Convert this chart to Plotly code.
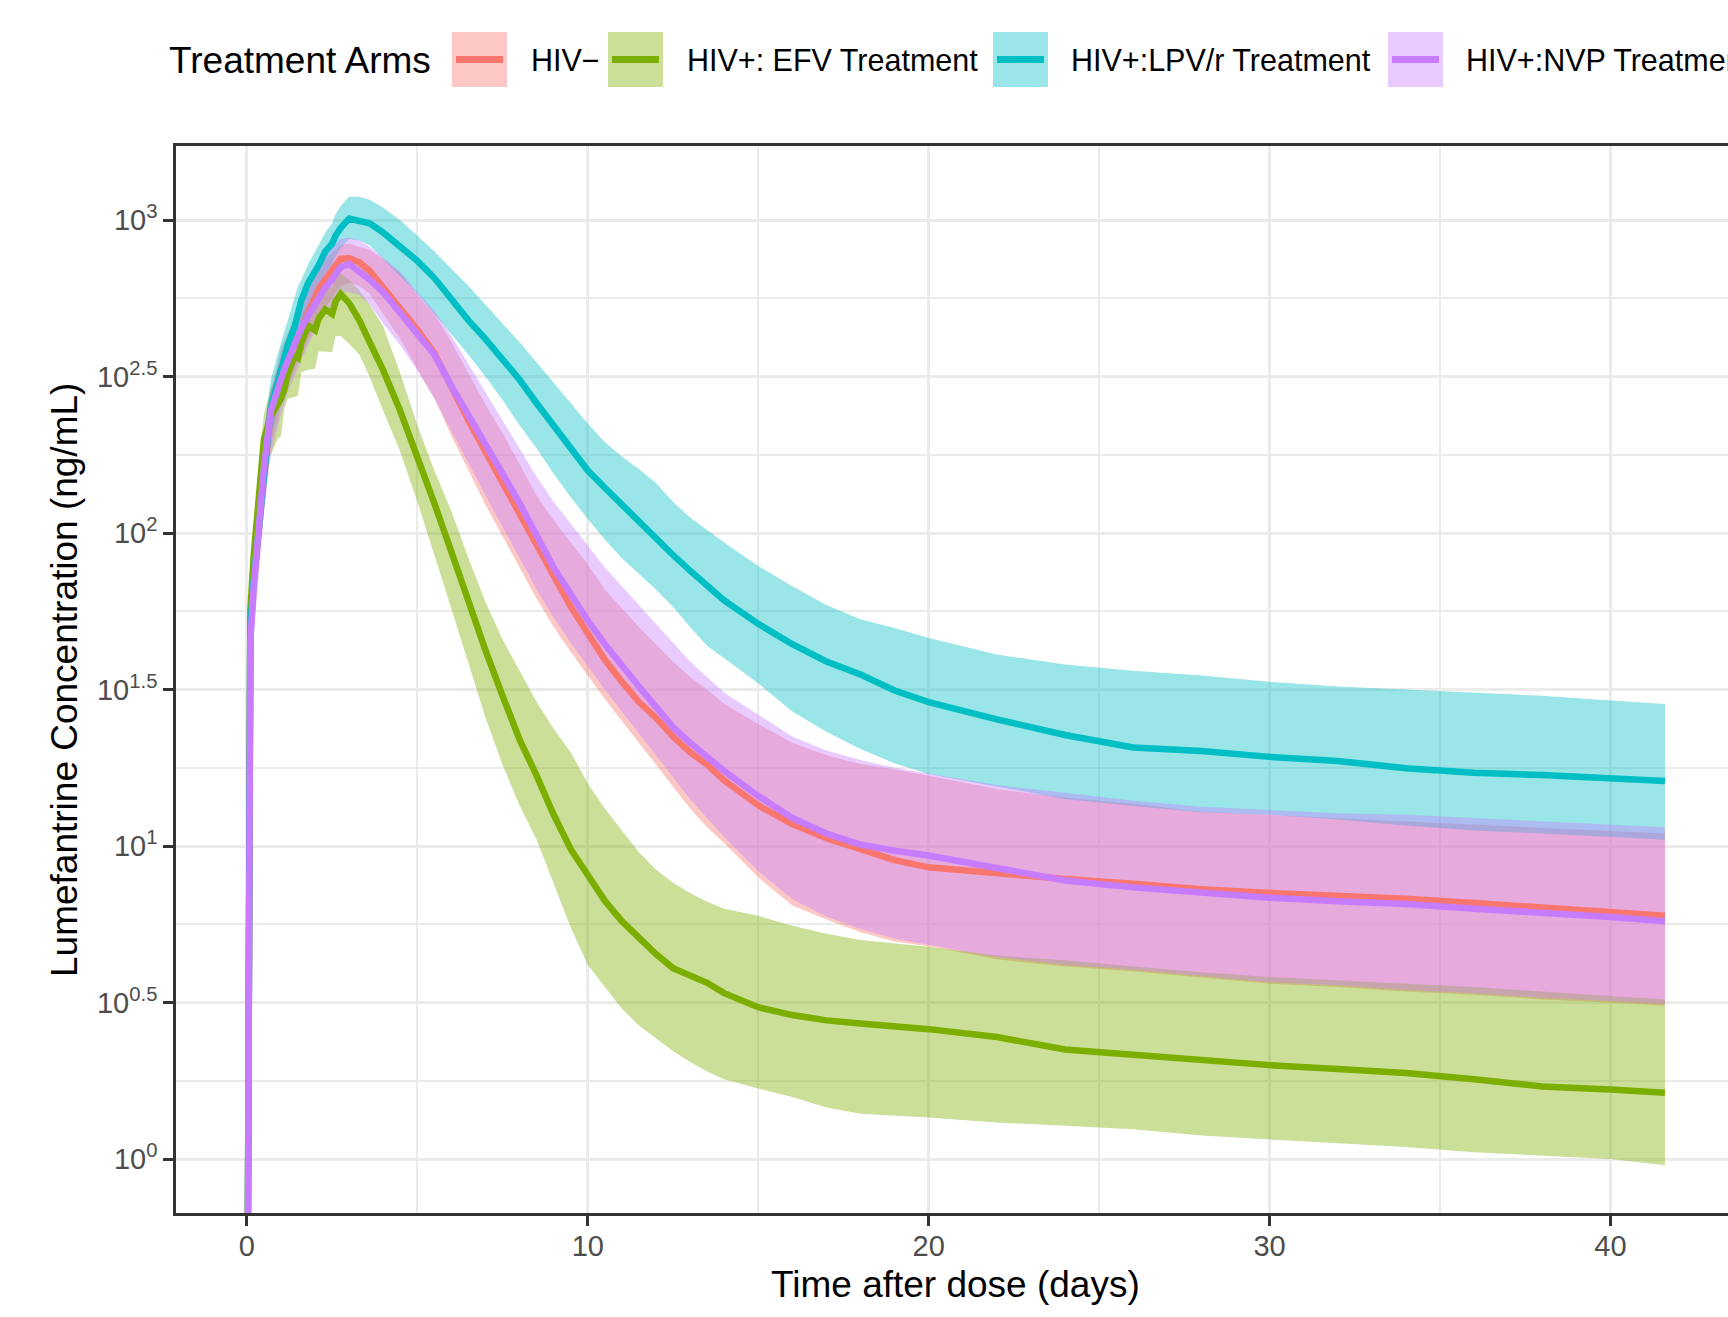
import plotly.graph_objects as go

# ---------------- data ----------------
# time after dose (days)
T = [0, 0.05, 0.1, 0.2, 0.3, 0.4, 0.5, 0.7, 0.9, 1.0,
     1.1, 1.2, 1.4, 1.5, 1.6, 1.8, 2.0, 2.1, 2.3, 2.5,
     2.6, 2.75, 3.0, 3.3, 3.6, 4.0, 4.5, 5.0, 5.5, 6.0,
     6.5, 7.0, 7.5, 8.0, 8.5, 9.0, 9.5, 10, 10.5, 11,
     11.5, 12, 12.5, 13, 13.5, 14, 15, 16, 17, 18,
     19, 20, 22, 24, 26, 28, 30, 32, 34, 36,
     38, 40, 41.6]

# all concentration values below are log10(ng/mL)
# HIV-
hivneg_med = [-1, 1.4, 1.68, 1.84, 1.95, 2.1, 2.22, 2.40, 2.475, 2.525,
              2.55, 2.57, 2.613, 2.63, 2.647, 2.705, 2.76, 2.78, 2.81, 2.835,
              2.855, 2.876, 2.878, 2.865, 2.838, 2.785, 2.72, 2.65, 2.575, 2.465,
              2.36, 2.26, 2.16, 2.06, 1.955, 1.855, 1.765, 1.68, 1.595, 1.525,
              1.46, 1.41, 1.35, 1.30, 1.26, 1.21, 1.13, 1.07, 1.025, 0.99,
              0.955, 0.932, 0.912, 0.895, 0.88, 0.862, 0.85, 0.842, 0.832, 0.818,
              0.803, 0.79, 0.777]
hivneg_hi = [-1, 1.5, 1.78, 1.94, 2.05, 2.19, 2.30, 2.46, 2.54, 2.59,
             2.615, 2.64, 2.69, 2.72, 2.74, 2.79, 2.83, 2.85, 2.875, 2.895,
             2.905, 2.92, 2.925, 2.915, 2.905, 2.875, 2.83, 2.76, 2.70, 2.61,
             2.51, 2.41, 2.32, 2.22, 2.12, 2.04, 1.97, 1.90, 1.82, 1.76,
             1.70, 1.645, 1.59, 1.54, 1.50, 1.455, 1.39, 1.33, 1.29, 1.262,
             1.245, 1.225, 1.182, 1.155, 1.135, 1.11, 1.10, 1.09, 1.08, 1.07,
             1.06, 1.05, 1.04]
hivneg_lo = [-1, 1.3, 1.58, 1.74, 1.85, 1.99, 2.11, 2.28, 2.37, 2.41,
             2.44, 2.47, 2.52, 2.55, 2.57, 2.62, 2.67, 2.69, 2.72, 2.75,
             2.77, 2.79, 2.80, 2.79, 2.765, 2.70, 2.62, 2.525, 2.43, 2.31,
             2.20, 2.09, 1.99, 1.89, 1.79, 1.70, 1.62, 1.545, 1.47, 1.40,
             1.33, 1.26, 1.19, 1.12, 1.06, 1.01, 0.90, 0.81, 0.765, 0.725,
             0.695, 0.68, 0.638, 0.615, 0.60, 0.58, 0.56, 0.55, 0.535, 0.525,
             0.51, 0.50, 0.49]

# HIV+: EFV
efv_med = [-1, 1.45, 1.75, 1.93, 2.05, 2.2, 2.30, 2.375, 2.41, 2.43,
           2.46, 2.51, 2.567, 2.56, 2.61, 2.663, 2.648, 2.685, 2.715, 2.70,
           2.74, 2.764, 2.735, 2.68, 2.61, 2.52, 2.39, 2.245, 2.095, 1.94,
           1.78, 1.625, 1.48, 1.34, 1.225, 1.10, 0.99, 0.905, 0.825, 0.76,
           0.705, 0.655, 0.61, 0.585, 0.563, 0.53, 0.485, 0.46, 0.443, 0.433,
           0.425, 0.415, 0.39, 0.35, 0.333, 0.315, 0.30, 0.288, 0.275, 0.255,
           0.232, 0.222, 0.212]
efv_hi = [-1, 1.55, 1.85, 2.02, 2.14, 2.28, 2.38, 2.46, 2.50, 2.52,
          2.56, 2.60, 2.64, 2.645, 2.70, 2.73, 2.73, 2.77, 2.79, 2.785,
          2.82, 2.83, 2.81, 2.775, 2.73, 2.66, 2.51, 2.345, 2.20, 2.07,
          1.92, 1.78, 1.66, 1.56, 1.46, 1.375, 1.30, 1.20, 1.12, 1.05,
          0.98, 0.925, 0.883, 0.85, 0.822, 0.80, 0.777, 0.745, 0.72, 0.70,
          0.69, 0.678, 0.65, 0.635, 0.615, 0.597, 0.582, 0.572, 0.562, 0.55,
          0.535, 0.52, 0.51]
efv_lo = [-1, 1.35, 1.62, 1.80, 1.93, 2.05, 2.12, 2.25, 2.30, 2.31,
          2.40, 2.43, 2.435, 2.44, 2.515, 2.522, 2.525, 2.58, 2.58, 2.578,
          2.63, 2.63, 2.605, 2.57, 2.50, 2.39, 2.26, 2.10, 1.93, 1.76,
          1.585, 1.41, 1.26, 1.13, 1.02, 0.88, 0.74, 0.62, 0.55, 0.48,
          0.427, 0.385, 0.345, 0.31, 0.28, 0.255, 0.225, 0.198, 0.165, 0.145,
          0.139, 0.133, 0.117, 0.105, 0.095, 0.075, 0.062, 0.05, 0.038, 0.022,
          0.012, 0.0, -0.02]

# HIV+: LPV/r
lpv_med = [-1, 1.4, 1.7, 1.85, 1.96, 2.11, 2.23, 2.40, 2.48, 2.52,
           2.56, 2.60, 2.66, 2.70, 2.745, 2.80, 2.835, 2.855, 2.90, 2.925,
           2.95, 2.975, 3.005, 3.0, 2.99, 2.96, 2.915, 2.87, 2.815, 2.745,
           2.68, 2.62, 2.555, 2.49, 2.415, 2.345, 2.27, 2.20, 2.145, 2.09,
           2.04, 1.985, 1.93, 1.88, 1.835, 1.785, 1.71, 1.645, 1.59, 1.548,
           1.497, 1.46, 1.405, 1.355, 1.315, 1.304, 1.285, 1.272, 1.249, 1.234,
           1.227, 1.219, 1.208]
lpv_hi = [-1, 1.5, 1.8, 1.95, 2.08, 2.22, 2.33, 2.49, 2.57, 2.61,
          2.645, 2.68, 2.75, 2.79, 2.81, 2.86, 2.90, 2.92, 2.96, 2.99,
          3.02, 3.045, 3.075, 3.075, 3.065, 3.04, 3.0, 2.95, 2.90, 2.845,
          2.79, 2.73, 2.67, 2.61, 2.545, 2.48, 2.415, 2.35, 2.29, 2.245,
          2.205, 2.16, 2.10, 2.05, 2.01, 1.97, 1.895, 1.83, 1.77, 1.725,
          1.697, 1.665, 1.612, 1.58, 1.56, 1.545, 1.525, 1.51, 1.50, 1.49,
          1.48, 1.465, 1.454]
lpv_lo = [-1, 1.3, 1.6, 1.75, 1.86, 2.0, 2.13, 2.31, 2.40, 2.44,
          2.48, 2.52, 2.59, 2.63, 2.67, 2.73, 2.77, 2.79, 2.83, 2.86,
          2.885, 2.91, 2.94, 2.935, 2.92, 2.875, 2.82, 2.765, 2.70, 2.635,
          2.57, 2.50, 2.425, 2.345, 2.27, 2.19, 2.115, 2.045, 1.98, 1.92,
          1.87, 1.82, 1.765, 1.70, 1.64, 1.60, 1.52, 1.43, 1.365, 1.31,
          1.265, 1.23, 1.19, 1.15, 1.128, 1.108, 1.10, 1.085, 1.066, 1.05,
          1.04, 1.03, 1.02]

# HIV+: NVP
nvp_med = [-1, 1.35, 1.65, 1.83, 1.95, 2.10, 2.21, 2.39, 2.46, 2.50,
           2.525, 2.55, 2.61, 2.63, 2.655, 2.695, 2.735, 2.755, 2.785, 2.81,
           2.83, 2.85, 2.86, 2.835, 2.81, 2.77, 2.705, 2.64, 2.57, 2.47,
           2.38, 2.285, 2.19, 2.095, 1.995, 1.89, 1.805, 1.72, 1.645, 1.575,
           1.51, 1.445, 1.38, 1.33, 1.285, 1.24, 1.16, 1.09, 1.04, 1.005,
           0.985, 0.97, 0.93, 0.89, 0.868, 0.851, 0.835, 0.824, 0.815, 0.80,
           0.788, 0.773, 0.76]
nvp_hi = [-1, 1.45, 1.75, 1.92, 2.04, 2.18, 2.29, 2.45, 2.53, 2.57,
          2.60, 2.63, 2.69, 2.72, 2.75, 2.80, 2.845, 2.865, 2.89, 2.915,
          2.925, 2.94, 2.945, 2.935, 2.915, 2.88, 2.835, 2.77, 2.71, 2.63,
          2.54, 2.45, 2.36, 2.27, 2.18, 2.10, 2.03, 1.96, 1.89, 1.83,
          1.77, 1.71, 1.65, 1.59, 1.54, 1.49, 1.42, 1.35, 1.305, 1.275,
          1.25, 1.232, 1.195, 1.17, 1.145, 1.126, 1.115, 1.105, 1.10, 1.09,
          1.08, 1.07, 1.06]
nvp_lo = [-1, 1.2, 1.5, 1.68, 1.80, 1.95, 2.07, 2.25, 2.34, 2.38,
          2.415, 2.45, 2.50, 2.53, 2.555, 2.60, 2.65, 2.67, 2.70, 2.73,
          2.75, 2.77, 2.77, 2.76, 2.73, 2.67, 2.60, 2.52, 2.43, 2.325,
          2.225, 2.12, 2.02, 1.92, 1.82, 1.73, 1.65, 1.575, 1.50, 1.43,
          1.36, 1.29, 1.22, 1.15, 1.09, 1.03, 0.92, 0.83, 0.775, 0.735,
          0.705, 0.685, 0.645, 0.62, 0.605, 0.585, 0.565, 0.555, 0.54, 0.53,
          0.515, 0.505, 0.495]

arm_names = ["HIV\u2212", "HIV+: EFV Treatment", "HIV+:LPV/r Treatment", "HIV+:NVP Treatment"]
arm_colors = ["#F8766D", "#7CAE00", "#00BFC4", "#C77CFF"]
arm_fills = ["rgba(248,118,109,0.4)", "rgba(124,174,0,0.4)",
             "rgba(0,191,196,0.4)", "rgba(199,124,255,0.4)"]
arm_med = [hivneg_med, efv_med, lpv_med, nvp_med]
arm_lo = [hivneg_lo, efv_lo, lpv_lo, nvp_lo]
arm_hi = [hivneg_hi, efv_hi, lpv_hi, nvp_hi]

y_major_log = [0, 0.5, 1, 1.5, 2, 2.5, 3]
y_major_text = ["10<sup>0</sup>", "10<sup>0.5</sup>", "10<sup>1</sup>", "10<sup>1.5</sup>",
                "10<sup>2</sup>", "10<sup>2.5</sup>", "10<sup>3</sup>"]
y_minor_log = [0.25, 0.75, 1.25, 1.75, 2.25, 2.75]
x_major = [0, 10, 20, 30, 40]
x_minor = [5, 15, 25, 35]

# ---------------- figure ----------------
W, H = 1728, 1317
ML, MR, MT, MB = 176, 0, 146, 104
PW, PH = W - ML - MR, H - MT - MB


def px(xp):
    return (xp - ML) / PW


def py(yp):
    return (H - MB - yp) / PH


def lin(v):
    return [10 ** a for a in v]


FONT = "Liberation Sans, Arial, Helvetica, sans-serif"
fig = go.Figure()

# ribbons
for name, fc, lo, hi in zip(arm_names, arm_fills, arm_lo, arm_hi):
    fig.add_trace(go.Scatter(x=T, y=lin(lo), mode="lines", line=dict(width=0, color=fc),
                             showlegend=False, hoverinfo="skip"))
    fig.add_trace(go.Scatter(x=T, y=lin(hi), mode="lines", line=dict(width=0, color=fc),
                             fill="tonexty", fillcolor=fc, showlegend=False, hoverinfo="skip"))
# median lines
for name, c, med in zip(arm_names, arm_colors, arm_med):
    fig.add_trace(go.Scatter(x=T, y=lin(med), mode="lines", name=name,
                             line=dict(width=6.5, color=c), showlegend=False))

# custom legend (ggplot style keys)
key_x = [452, 608, 993, 1388]
label_x = [529, 685, 1069, 1464]
shapes = []
annotations = [dict(text="Treatment Arms", xref="paper", yref="paper", x=px(167), y=py(60),
                    xanchor="left", yanchor="middle", showarrow=False,
                    font=dict(size=37, color="black", family=FONT))]
for kx, lx, name, c, fc in zip(key_x, label_x, arm_names, arm_colors, arm_fills):
    shapes.append(dict(type="rect", xref="paper", yref="paper", x0=px(kx), x1=px(kx + 55),
                       y0=py(87), y1=py(32), fillcolor=fc, line=dict(width=0), layer="above"))
    shapes.append(dict(type="line", xref="paper", yref="paper", x0=px(kx + 4), x1=px(kx + 51),
                       y0=py(59.5), y1=py(59.5), line=dict(width=7, color=c), layer="above"))
    annotations.append(dict(text=name, xref="paper", yref="paper", x=px(lx), y=py(60),
                            xanchor="left", yanchor="middle", showarrow=False,
                            font=dict(size=30.5, color="black", family=FONT)))

# axis titles
annotations.append(dict(text="Time after dose (days)", xref="paper", yref="paper",
                        x=px(955), y=py(1284), xanchor="center", yanchor="middle",
                        showarrow=False, font=dict(size=37, color="black", family=FONT)))
annotations.append(dict(text="Lumefantrine Concentration (ng/mL)", xref="paper", yref="paper",
                        x=px(65), y=py(680), xanchor="center", yanchor="middle", textangle=-90,
                        showarrow=False, font=dict(size=37, color="black", family=FONT)))

fig.update_layout(
    width=W, height=H,
    margin=dict(l=ML, r=MR, t=MT, b=MB, autoexpand=False),
    paper_bgcolor="white", plot_bgcolor="white",
    font=dict(family=FONT),
    showlegend=False,
    shapes=shapes, annotations=annotations,
    xaxis=dict(
        range=[-2.08, 43.45], tickmode="array", tickvals=x_major,
        ticktext=[str(v) for v in x_major],
        ticks="outside", ticklen=10, tickwidth=2.5, tickcolor="#333333",
        ticklabelstandoff=-5,
        tickfont=dict(size=29, color="#4D4D4D", family=FONT),
        showline=True, linecolor="#333333", linewidth=2.5, mirror=True,
        showgrid=True, gridcolor="#EBEBEB", gridwidth=3, zeroline=False,
        minor=dict(tickmode="array", tickvals=x_minor, showgrid=True,
                   gridcolor="#EBEBEB", gridwidth=1.6, ticks=""),
    ),
    yaxis=dict(
        type="log", range=[-0.1725, 3.237], tickmode="array",
        tickvals=[10 ** v for v in y_major_log], ticktext=y_major_text,
        ticks="outside", ticklen=10, tickwidth=2.5, tickcolor="#333333",
        tickfont=dict(size=29, color="#4D4D4D", family=FONT),
        showline=True, linecolor="#333333", linewidth=2.5, mirror=False,
        showgrid=True, gridcolor="#EBEBEB", gridwidth=3, zeroline=False,
        minor=dict(tickmode="array", tickvals=[10 ** v for v in y_minor_log], showgrid=True,
                   gridcolor="#EBEBEB", gridwidth=1.6, ticks=""),
    ),
)

fig.write_html("out.html", config={"displayModeBar": False},
               post_script="document.body.style.margin='0px';document.body.style.overflow='hidden';")
